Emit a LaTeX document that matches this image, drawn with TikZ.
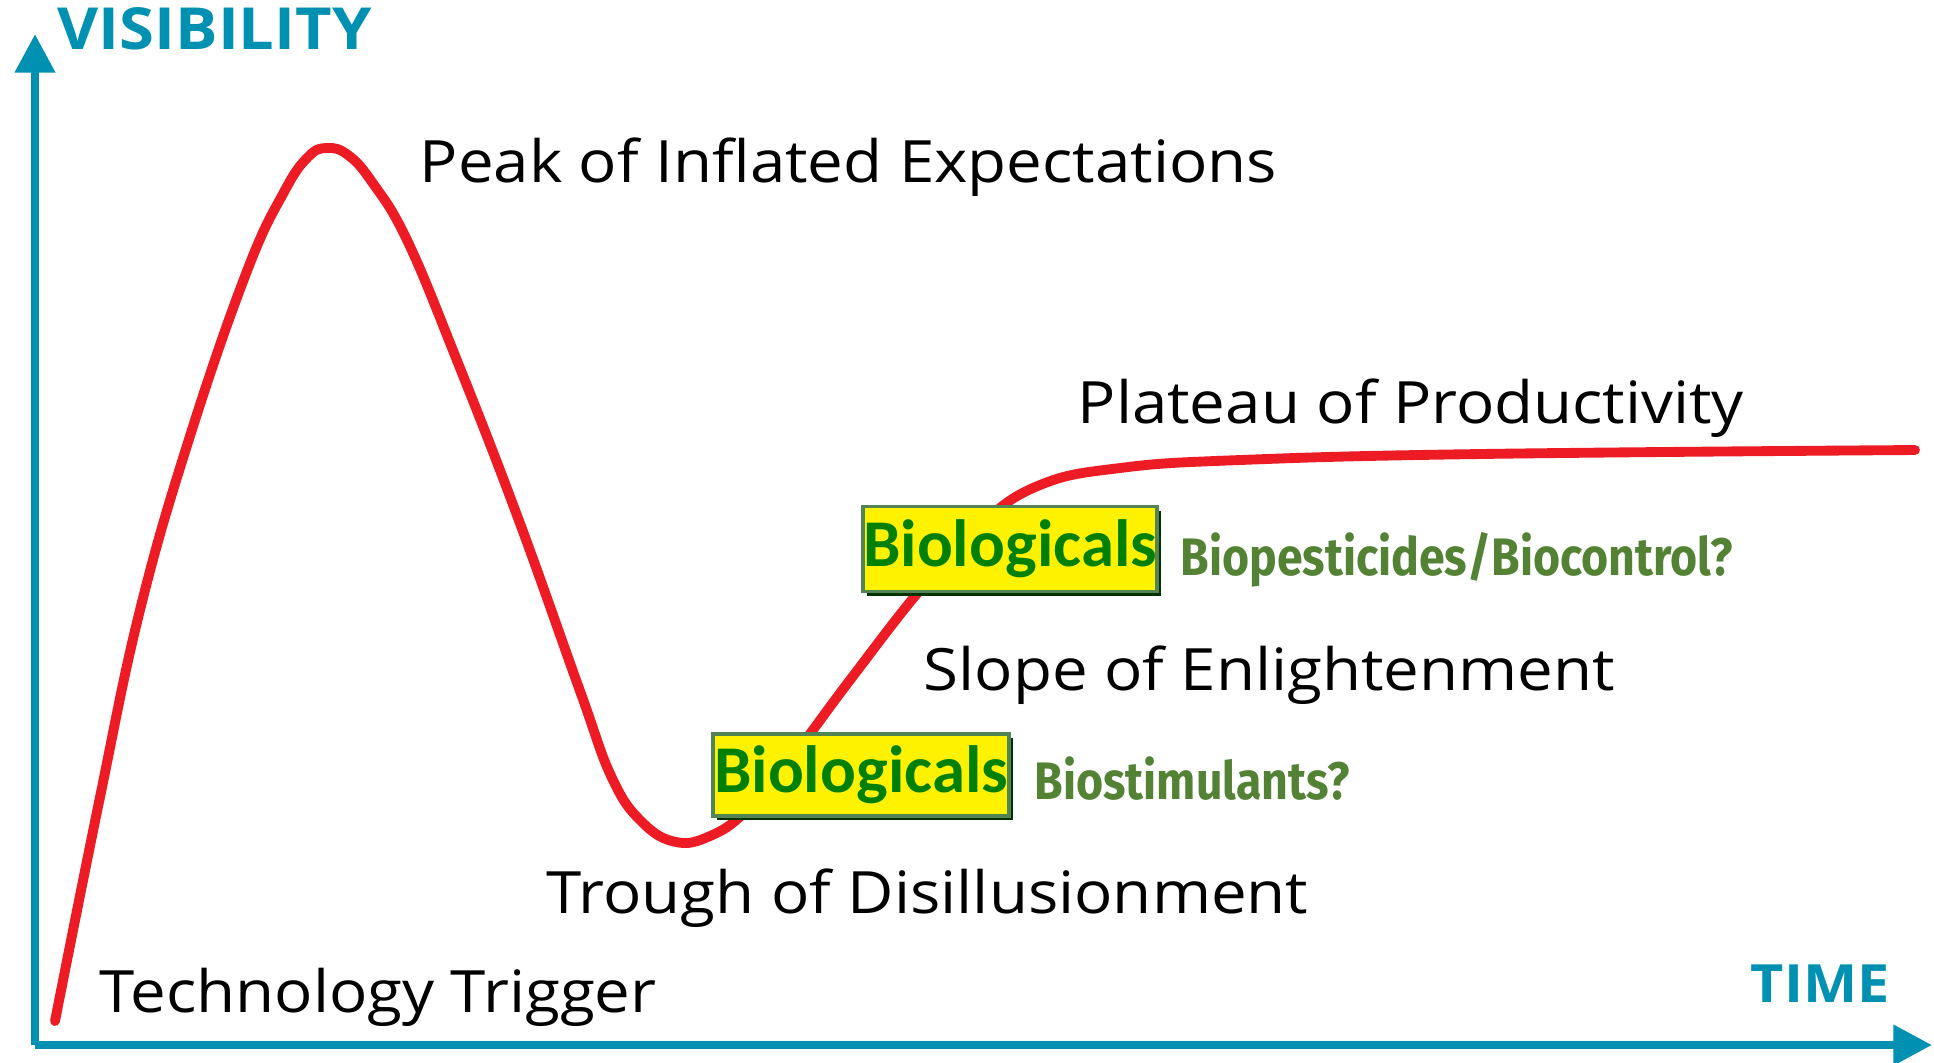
\documentclass[tikz,border=0pt]{standalone}
\usepackage{fontspec}
\setmainfont[FakeStretch=1.09]{Open Sans}
\newfontfamily\boxfont{Carlito}
\newfontfamily\notefont[FakeStretch=0.88]{Fira Sans}
\usepackage{xcolor}
\usetikzlibrary{arrows.meta, positioning, shadows}

\definecolor{axisblue}{RGB}{0,145,178}
\definecolor{hypered}{RGB}{237,28,36}
\definecolor{biogreen}{RGB}{0,128,0}
\definecolor{noteolive}{RGB}{84,130,53}

\begin{document}
\begin{tikzpicture}[
    x=0.01cm, y=-0.01cm,
    axis/.style={-{Triangle[length=11pt, width=11pt]}, line width=2.4pt, draw=axisblue},
    axislabel/.style={text=axisblue, font=\bfseries\fontsize{16.5}{20}\selectfont, inner sep=0pt, anchor=base west},
    phase/.style={font=\fontsize{16.6}{20}\selectfont, inner sep=0pt, anchor=base west},
    hype/.style={draw=hypered, line width=2.8pt, line cap=round, line join=round},
    biobox/.style={draw=black!45!green!35!gray, line width=1pt, fill=yellow, text=biogreen,
        font=\boxfont\bfseries\fontsize{19}{22}\selectfont, inner sep=0pt,
        drop shadow={shadow xshift=1.2pt, shadow yshift=-1.2pt, fill=black!80!green, opacity=1}},
    note/.style={text=noteolive, font=\notefont\bfseries\fontsize{15}{18}\selectfont, inner sep=0pt},
]
\useasboundingbox (0,0) rectangle (1934,1062);

% Axes
\coordinate (origin) at (35,1045);
\coordinate (ytop) at (35,34);
\coordinate (xend) at (1932,1045);
\draw[axis] (origin) -- (ytop);
\draw[axis] (origin) -- (xend);
\node[axislabel] (visibility) at (57,49) {VISIBILITY};
\node[axislabel, font=\bfseries\fontsize{15}{18}\selectfont] (time) at (1750,1002) {TIME};

% Hype curve
\draw[hype] plot[smooth, tension=0.7] coordinates {
    (55,1021) (99,802) (140,610) (190,436) (247,271) (284,192) (308,157)
    (327,148) (348,155) (372,182) (407,240) (456,358) (518,518) (580,691)
    (612,778) (642,822) (676,842) (710,836) (745,812) (790,760) (850,680)
    (920,590) (980,525) (1040,485) (1120,468) (1240,460) (1480,454) (1915,450)};

% Phases
\node[phase] (trigger) at (99,1012) {Technology Trigger};
\node[phase] (peak) at (419,182) {Peak of Inflated Expectations};
\node[phase] (trough) at (546,913) {Trough of Disillusionment};
\node[phase] (slope) at (923,690) {Slope of Enlightenment};
\node[phase] (plateau) at (1077,423) {Plateau of Productivity};

% Biologicals
\node[biobox, minimum width=2.94cm, minimum height=0.85cm] (bioslope) at (1010,549) {Biologicals};
\node[biobox, minimum width=2.96cm, minimum height=0.82cm] (biotrough) at (861,775) {Biologicals};
\node[note, right=0.21cm of bioslope, yshift=-3pt] (biopest) {Biopesticides/Biocontrol?};
\node[note, right=0.23cm of biotrough, yshift=-1pt] (biostim) {Biostimulants?};
\end{tikzpicture}
\end{document}
